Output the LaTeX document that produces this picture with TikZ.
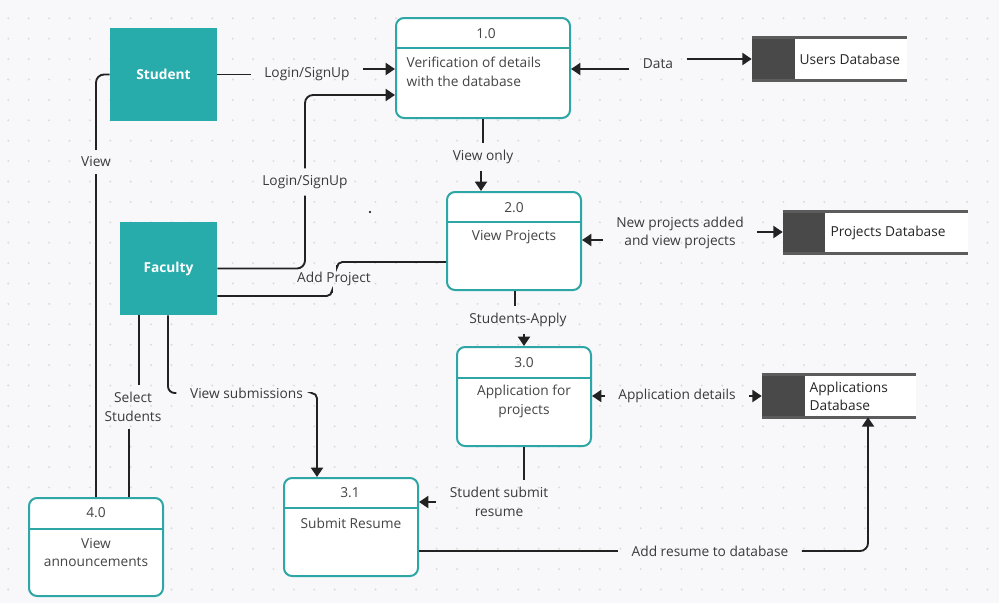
\documentclass[tikz,border=0pt]{standalone}
\usepackage{fontspec}
\setmainfont{Open Sans}
\usetikzlibrary{arrows.meta}
\definecolor{teal1}{HTML}{27ABAB}
\definecolor{tealb}{HTML}{2EA6A6}
\definecolor{bg}{HTML}{F8F8FA}
\definecolor{gdot}{HTML}{DADADF}
\definecolor{ink}{HTML}{222222}
\definecolor{txt}{HTML}{3A3A3A}
\definecolor{ptx}{HTML}{444444}
\definecolor{dbdark}{HTML}{494949}
\definecolor{dbline}{HTML}{5C5C5C}
\begin{document}
\begin{tikzpicture}[x=0.75pt,y=-0.75pt,
  font=\fontsize{10.3pt}{14pt}\selectfont,
  entity/.style={fill=teal1,text=white,inner sep=0pt,font=\fontsize{10.3pt}{14pt}\selectfont\bfseries},
  proc/.style={draw=tealb,line width=1.5pt,rounded corners=6pt,fill=white,inner sep=0pt,minimum width=100.5pt,minimum height=73.5pt},
  ptext/.style={text=ptx,inner sep=1pt,align=center},
  divider/.style={draw=tealb,line width=1.5pt},
  dbbody/.style={fill=white,inner sep=0pt},
  dbedge/.style={draw=dbline,line width=2pt},
  dbtext/.style={text=black!85,inner sep=1pt,anchor=west,align=left},
  lab/.style={text=txt,inner xsep=10pt,inner ysep=5pt,align=center},
  flow/.style={draw=ink,line width=1.4pt},
  arr/.style={flow,-{Triangle[length=7pt,width=9pt]}}]
\useasboundingbox (0,0) rectangle (999,603);
\fill[bg] (0,0) rectangle (999,603);
\foreach \i in {0,...,48}{\foreach \j in {0,...,28}{\fill[gdot] (8.3+20.4*\i,18.3+20.4*\j) circle (0.8pt);}}

% external entities
\node[entity,minimum width=80.25pt,minimum height=69.75pt] (student) at (163.5,74.5) {Student};
\node[entity,minimum width=72.75pt,minimum height=69.75pt] (faculty) at (168.5,268.5) {Faculty};

% processes
\node[proc,minimum width=130.5pt,minimum height=75pt] (p1) at (483,68) {};
\draw[divider] (p1.west |- 0,48) -- (p1.east |- 0,48);
\node[ptext] (n1) at (486,34) {1.0};
\node[ptext,anchor=west,align=left] (b1) at (405,72) {Verification of details\\with the database};

\node[proc] (p2) at (514,241) {};
\draw[divider] (p2.west |- 0,222) -- (p2.east |- 0,222);
\node[ptext] (n2) at (514,208) {2.0};
\node[ptext] (b2) at (514,237) {View Projects};

\node[proc,minimum height=74.25pt] (p3) at (524,396.5) {};
\draw[divider] (p3.west |- 0,378) -- (p3.east |- 0,378);
\node[ptext] (n3) at (524,363) {3.0};
\node[ptext] (b3) at (524,401.5) {Application for\\projects};

\node[proc] (p31) at (351,527) {};
\draw[divider] (p31.west |- 0,508) -- (p31.east |- 0,508);
\node[ptext] (n31) at (350,493) {3.1};
\node[ptext] (b31) at (351,523) {Submit Resume};

\node[proc] (p4) at (96,547) {};
\draw[divider] (p4.west |- 0,529) -- (p4.east |- 0,529);
\node[ptext] (n4) at (96,513) {4.0};
\node[ptext] (b4) at (96,552.5) {View\\announcements};

% data stores
\node[dbbody,minimum width=116.25pt,minimum height=31.5pt] (udb) at (829.5,59) {};
\fill[dbdark] (udb.north west) rectangle (795,80);
\draw[dbedge] (udb.north west) -- (udb.north east);
\draw[dbedge] (udb.south west) -- (udb.south east);
\node[dbtext] (udbt) at (798,59) {Users Database};

\node[dbbody,minimum width=138.75pt,minimum height=30.75pt] (pdb) at (875.5,232.5) {};
\fill[dbdark] (pdb.north west) rectangle (825,253);
\draw[dbedge] (pdb.north west) -- (pdb.north east);
\draw[dbedge] (pdb.south west) -- (pdb.south east);
\node[dbtext] (pdbt) at (829,233) {Projects Database};

\node[dbbody,minimum width=115.5pt,minimum height=31.5pt] (adb) at (839,396) {};
\fill[dbdark] (adb.north west) rectangle (805,417);
\draw[dbedge] (adb.north west) -- (adb.north east);
\draw[dbedge] (adb.south west) -- (adb.south east);
\node[dbtext] (adbt) at (808,396.5) {Applications\\Database};

% labels
\node[lab] (l1) at (307,74) {Login/SignUp};
\node[lab] (l2) at (305,182) {Login/SignUp};
\node[lab] (l3) at (96,162) {View};
\node[lab] (l4) at (133,407) {Select\\Students};
\node[lab] (l5) at (246.5,393) {View submissions};
\node[lab] (l6) at (334,279) {Add Project};
\node[lab] (l7) at (483,157) {View only};
\node[lab] (l8) at (658,64) {Data};
\node[lab] (l9) at (680,233) {New projects added\\and view projects};
\node[lab] (l10) at (518,320) {Students-Apply};
\node[lab] (l11) at (677,396) {Application details};
\node[lab] (l12) at (499,502) {Student submit\\resume};
\node[lab] (l13) at (710,551) {Add resume to database};

% connectors
\draw[flow] (student.east) -- (l1.west |- student.east);
\draw[arr] (l1.east |- 0,69) -- (p1.west |- 0,69);

\draw[flow,rounded corners=6pt] (faculty.east) -- (305,268.5) -- (l2.south);
\draw[arr,rounded corners=6pt] (l2.north) -- (305,95) -- (p1.west |- 0,95);

\draw[flow,rounded corners=6pt] (student.west) -- (96,74.5) -- (l3.north);
\draw[flow] (l3.south) -- (p4.north);

\draw[flow] (faculty.south -| 139,0) -- (l4.north -| 139,0);
\draw[flow] (l4.south -| 129,0) -- (p4.north -| 129,0);

\draw[flow,rounded corners=5pt] (faculty.south -| 168,0) -- (168,393) -- (l5.west);
\draw[arr,rounded corners=4pt] (l5.east -| 312,0) -- (l5.east -| 317,0) -- (p31.north -| 317,0);

\draw[flow,rounded corners=4pt] (p2.west |- 0,262) -- (337,262) -- (l6.north -| 337,0);
\draw[flow,rounded corners=4pt] (l6.south -| 332,0) -- (332,296) -- (faculty.east |- 0,296);

\draw[flow] (p1.south -| 483,0) -- (l7.north -| 483,0);
\draw[arr] (l7.south -| 481,0) -- (p2.north -| 481,0);

\draw[arr] (l8.west |- 0,69) -- (p1.east |- 0,69);
\draw[arr] (l8.east |- 0,59) -- (udb.west |- 0,59);

\draw[arr] (l9.west |- 0,240) -- (p2.east |- 0,240);
\draw[arr] (l9.east |- 0,232) -- (pdb.west |- 0,232);

\draw[flow] (p2.south -| 515,0) -- (l10.north -| 515,0);
\draw[arr] (l10.south -| 524,0) -- (p3.north -| 524,0);

\draw[arr] (l11.west) -- (p3.east |- l11.west);
\draw[arr] (l11.east) -- (adb.west |- l11.east);

\draw[flow] (p3.south -| 524,0) -- (l12.north -| 524,0);
\draw[arr] (l12.west |- 0,502) -- (p31.east |- 0,502);

\draw[flow] (p31.east |- 0,551) -- (l13.west |- 0,551);
\draw[arr,rounded corners=6pt] (l13.east |- 0,551) -- (868,551) -- (adb.south -| 868,0);

\fill[black] (370,212) circle (0.9pt);
\end{tikzpicture}
\end{document}
